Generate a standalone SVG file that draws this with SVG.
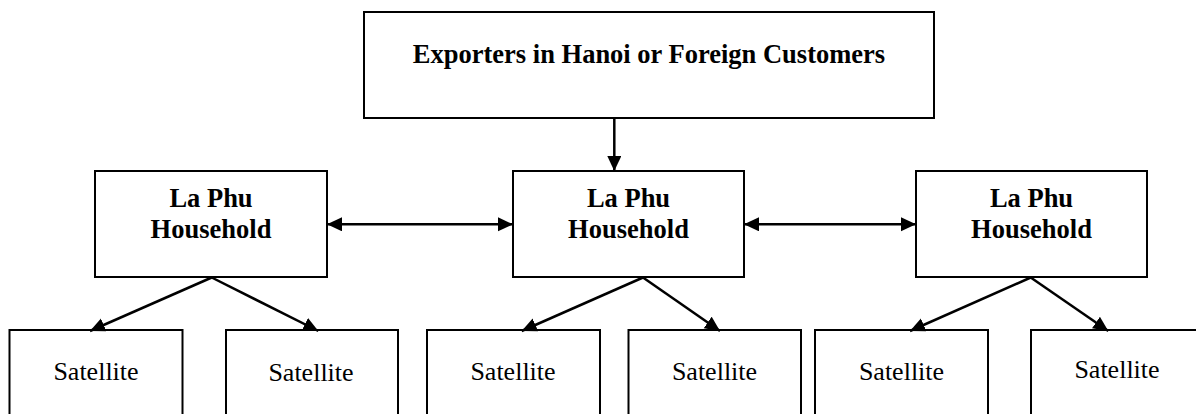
<svg xmlns="http://www.w3.org/2000/svg" width="1196" height="414" viewBox="0 0 1196 414">
<style>
.box{fill:#fff;stroke:#000;stroke-width:2}
.b{font-family:"Liberation Serif","Times New Roman",serif;font-weight:bold;font-size:26.5px;fill:#000;text-anchor:middle}
.r{font-family:"Liberation Serif","Times New Roman",serif;font-size:26px;fill:#000;text-anchor:middle}
.c{stroke:#000;stroke-width:2.5;fill:none}
</style>
<defs>
<marker id="ah" markerUnits="userSpaceOnUse" markerWidth="16" markerHeight="15" refX="15" refY="7" orient="auto-start-reverse">
<path d="M0,0 L15,7 L0,14 z" fill="#000"/>
</marker>
</defs>
<rect width="1196" height="414" fill="#fff"/>
<g id="top">
<rect class="box" x="364" y="12" width="570" height="106"/>
<text class="b" x="649" y="63">Exporters in Hanoi or Foreign Customers</text>
</g>
<g id="hh1">
<rect class="box" x="95" y="171" width="232" height="106"/>
<text class="b" x="211" y="207">La Phu</text>
<text class="b" x="211" y="237.5">Household</text>
</g>
<g id="hh2">
<rect class="box" x="513" y="171" width="231" height="106"/>
<text class="b" x="628.5" y="207">La Phu</text>
<text class="b" x="628.5" y="237.5">Household</text>
</g>
<g id="hh3">
<rect class="box" x="916" y="171" width="231" height="106"/>
<text class="b" x="1031.5" y="207">La Phu</text>
<text class="b" x="1031.5" y="237.5">Household</text>
</g>
<g id="s1"><rect class="box" x="9.5" y="330" width="173" height="100"/><text class="r" x="96" y="379.5">Satellite</text></g>
<g id="s2"><rect class="box" x="226" y="330" width="172" height="100"/><text class="r" x="311" y="381">Satellite</text></g>
<g id="s3"><rect class="box" x="427" y="330" width="173" height="100"/><text class="r" x="513" y="380">Satellite</text></g>
<g id="s4"><rect class="box" x="628.5" y="330" width="172.5" height="100"/><text class="r" x="714.5" y="380">Satellite</text></g>
<g id="s5"><rect class="box" x="815" y="330" width="173" height="100"/><text class="r" x="901.5" y="380">Satellite</text></g>
<g id="s6"><rect class="box" x="1031" y="330" width="180" height="100"/><text class="r" x="1117" y="377.5">Satellite</text></g>
<g id="connectors">
<line class="c" x1="614.3" y1="118" x2="614.3" y2="171" marker-end="url(#ah)"/>
<line class="c" x1="327" y1="224.3" x2="513" y2="224.3" marker-start="url(#ah)" marker-end="url(#ah)"/>
<line class="c" x1="744" y1="224.3" x2="916" y2="224.3" marker-start="url(#ah)" marker-end="url(#ah)"/>
<line class="c" x1="211.7" y1="277.5" x2="90" y2="331" marker-end="url(#ah)"/>
<line class="c" x1="211.7" y1="277.5" x2="318.3" y2="331" marker-end="url(#ah)"/>
<line class="c" x1="643" y1="277.5" x2="521.7" y2="331" marker-end="url(#ah)"/>
<line class="c" x1="643" y1="277.5" x2="720" y2="331" marker-end="url(#ah)"/>
<line class="c" x1="1030.7" y1="277.5" x2="910" y2="331" marker-end="url(#ah)"/>
<line class="c" x1="1030.7" y1="277.5" x2="1108.3" y2="331" marker-end="url(#ah)"/>
</g>
</svg>
